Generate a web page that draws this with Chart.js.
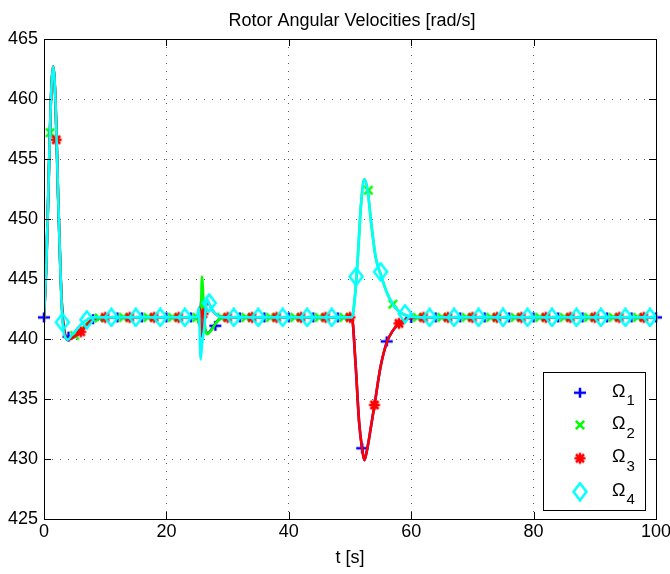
<!DOCTYPE html>
<html>
<head>
<meta charset="utf-8">
<script src="https://cdn.jsdelivr.net/npm/chart.js@4.4.0/dist/chart.umd.min.js"></script>
<style>
  html, body { margin: 0; padding: 0; background: #fff; }
</style>
</head>
<body>
<canvas id="chart" width="670" height="574"></canvas>
<script>
"use strict";

// ---- data ----
const TITLE = "Rotor Angular Velocities [rad/s]";
const X_LABEL = "t [s]";
const SERIES_NAMES = ["1", "2", "3", "4"]; // subscripts of Omega

// Omega_1 / Omega_3 curve samples
const T13 = [0, 0.4, 0.8, 1.1, 1.5, 1.9, 2.3, 2.7, 3.0, 3.5, 3.9, 4.5, 5.2, 6.0, 7.0, 8.0, 9.0,
             25.0, 25.4, 25.8, 26.2, 26.8, 27.5, 28.5, 29.5,
             50.3, 50.9, 51.5, 52.0, 52.35, 52.8, 53.4, 54.0, 55.0, 56.0, 57.0, 58.0, 59.0, 60.0, 61.0, 100];
const omega1 = [441.8, 446.5, 454.0, 459.5, 462.7, 459.5, 452.0, 445.5, 442.2, 440.2, 439.95, 440.05, 440.25, 440.6, 441.2, 441.65, 441.8,
                441.8, 441.3, 443.6, 441.0, 440.5, 440.9, 441.6, 441.8,
                441.8, 438.0, 433.0, 430.8, 429.9, 430.8, 432.6, 434.5, 437.7, 439.7, 440.7, 441.3, 441.6, 441.75, 441.8, 441.8];
const omega3 = [441.8, 446.5, 454.0, 459.5, 462.7, 459.5, 452.0, 445.5, 442.2, 440.2, 439.95, 440.05, 440.3, 440.6, 441.2, 441.65, 441.8,
                441.8, 442.6, 440.2, 442.0, 443.0, 442.4, 441.9, 441.8,
                441.8, 438.0, 433.0, 430.8, 429.9, 430.8, 432.6, 434.5, 437.7, 439.7, 440.7, 441.3, 441.6, 441.75, 441.8, 441.8];

// Omega_2 / Omega_4 curve samples
const T24 = [0, 0.4, 0.8, 1.1, 1.5, 1.9, 2.3, 2.7, 3.0, 3.5, 3.9, 4.5, 5.2, 6.0, 7.0, 8.0, 9.0,
             25.0, 25.3, 25.6, 25.8, 26.2, 26.6, 27.3, 28.2, 29.2,
             50.3, 50.8, 51.3, 51.8, 52.35, 52.9, 53.5, 54.2, 55.0, 56.0, 57.0, 58.0, 59.0, 60.0, 61.0, 100];
const omega2 = [441.8, 446.5, 454.0, 459.5, 462.7, 459.5, 452.0, 445.5, 442.0, 440.2, 439.95, 440.1, 440.3, 440.7, 441.3, 441.7, 441.8,
                441.8, 441.3, 441.0, 445.2, 441.6, 440.4, 440.7, 441.4, 441.8,
                441.8, 443.5, 447.0, 451.2, 453.3, 452.3, 449.5, 446.8, 445.4, 443.9, 442.9, 442.3, 442.0, 441.85, 441.8, 441.8];
const omega4 = [441.8, 446.5, 454.0, 459.5, 462.7, 459.5, 452.0, 445.5, 441.6, 440.1, 439.95, 440.3, 440.7, 441.2, 441.6, 441.8, 441.8,
                441.8, 442.6, 438.3, 439.5, 441.0, 443.3, 442.6, 442.0, 441.8,
                441.8, 443.5, 447.0, 451.2, 453.3, 452.3, 449.5, 446.8, 445.4, 443.9, 442.9, 442.3, 442.0, 441.85, 441.8, 441.8];

// marker positions (MATLAB puts a marker on every n-th sample)
const mark1T = [0, 4, 8, 12, 16, 20, 24, 28, 32, 36, 40, 44, 48, 52, 56, 60, 64, 68, 72, 76, 80, 84, 88, 92, 96, 100];
const mark1V = [441.8, 440.2, 441.65, 441.8, 441.8, 441.8, 441.8, 441.1, 441.8, 441.8, 441.8, 441.8, 441.8, 430.9, 439.8, 441.75,
                441.8, 441.8, 441.8, 441.8, 441.8, 441.8, 441.8, 441.8, 441.8, 441.8];
const mark2T = [1, 5, 9, 13, 17, 21, 25, 29, 33, 37, 41, 45, 49, 53, 57, 61, 65, 69, 73, 77, 81, 85, 89, 93, 97];
const mark2V = [457.2, 440.3, 441.75, 441.8, 441.8, 441.8, 441.8, 441.8, 441.8, 441.8, 441.8, 441.8, 441.8, 452.4, 442.9,
                441.8, 441.8, 441.8, 441.8, 441.8, 441.8, 441.8, 441.8, 441.8, 441.8];
const mark3T = [2, 6, 10, 14, 18, 22, 26, 30, 34, 38, 42, 46, 50, 54, 58, 62, 66, 70, 74, 78, 82, 86, 90, 94, 98];
const mark3V = [456.6, 440.6, 441.8, 441.8, 441.8, 441.8, 442.1, 441.8, 441.8, 441.8, 441.8, 441.8, 441.8, 434.5, 441.3,
                441.8, 441.8, 441.8, 441.8, 441.8, 441.8, 441.8, 441.8, 441.8, 441.8];
const mark4T = [3, 7, 11, 15, 19, 23, 27, 31, 35, 39, 43, 47, 51, 55, 59, 63, 67, 71, 75, 79, 83, 87, 91, 95, 99];
const mark4V = [441.4, 441.6, 441.8, 441.8, 441.8, 441.8, 443.0, 441.8, 441.8, 441.8, 441.8, 441.8, 445.2, 445.6, 442.1,
                441.8, 441.8, 441.8, 441.8, 441.8, 441.8, 441.8, 441.8, 441.8, 441.8];

const X_TICKS = {min: 0, max: 100, step: 20};
const Y_TICKS = {min: 425, max: 465, step: 5};

const COLORS = ["#0000ff", "#00ff00", "#ff0000", "#00ffff"];
const FONT = '"Liberation Sans", Arial, Helvetica, sans-serif';

// ---- marker glyphs ----
function makeMarker(kind, color) {
    const c = document.createElement("canvas");
    c.width = 20;
    c.height = 20;
    const g = c.getContext("2d");
    g.strokeStyle = color;
    g.lineWidth = 2.5;
    g.lineCap = "butt";
    g.beginPath();
    if (kind === "plus" || kind === "star") {
        const w = kind === "plus" ? 6 : 5.5, h = kind === "plus" ? 5 : 5.5;
        g.moveTo(10 - w, 10); g.lineTo(10 + w, 10);
        g.moveTo(10, 10 - h); g.lineTo(10, 10 + h);
    }
    if (kind === "cross" || kind === "star") {
        const d = kind === "cross" ? 4.2 : 4;
        g.moveTo(10 - d, 10 - d); g.lineTo(10 + d, 10 + d);
        g.moveTo(10 - d, 10 + d); g.lineTo(10 + d, 10 - d);
    }
    if (kind === "diamond") {
        g.moveTo(10, 1.5); g.lineTo(16.5, 10); g.lineTo(10, 18.5); g.lineTo(3.5, 10); g.closePath();
    }
    g.stroke();
    return c;
}

const MARKERS = [
    makeMarker("plus", COLORS[0]),
    makeMarker("cross", COLORS[1]),
    makeMarker("star", COLORS[2]),
    makeMarker("diamond", COLORS[3]),
];

function xy(ts, vs) {
    return ts.map((t, i) => ({x: t, y: vs[i]}));
}

function lineSet(ts, vs, color) {
    return {
        data: xy(ts, vs),
        borderColor: color,
        borderWidth: 2.6,
        pointRadius: 0,
        cubicInterpolationMode: "monotone",
        borderJoinStyle: "round",
        fill: false,
    };
}

function markSet(ts, vs, marker) {
    return {
        data: xy(ts, vs),
        showLine: false,
        pointStyle: marker,
        pointRadius: 6,
        clip: false,
    };
}

// index 0 is drawn last (on top), so the last plotted series comes first
const datasets = [
    markSet(mark4T, mark4V, MARKERS[3]),
    lineSet(T24, omega4, COLORS[3]),
    markSet(mark3T, mark3V, MARKERS[2]),
    lineSet(T13, omega3, COLORS[2]),
    markSet(mark2T, mark2V, MARKERS[1]),
    lineSet(T24, omega2, COLORS[1]),
    markSet(mark1T, mark1V, MARKERS[0]),
    lineSet(T13, omega1, COLORS[0]),
];

// box, inward ticks, titles and legend in MATLAB style
const matlabFrame = {
    id: "matlabFrame",
    afterDraw(chart) {
        const {ctx, chartArea: a, scales} = chart;
        const TICK = 7;
        ctx.save();
        ctx.strokeStyle = "#000";
        ctx.lineWidth = 1;
        ctx.beginPath();
        for (const t of scales.x.ticks) {
            const px = Math.round(scales.x.getPixelForValue(t.value)) + 0.5;
            ctx.moveTo(px, a.bottom); ctx.lineTo(px, a.bottom - TICK);
            ctx.moveTo(px, a.top); ctx.lineTo(px, a.top + TICK);
        }
        for (const t of scales.y.ticks) {
            const py = Math.round(scales.y.getPixelForValue(t.value)) + 0.5;
            ctx.moveTo(a.left, py); ctx.lineTo(a.left + TICK, py);
            ctx.moveTo(a.right, py); ctx.lineTo(a.right - TICK, py);
        }
        ctx.stroke();
        ctx.strokeRect(a.left + 0.5, a.top + 0.5, a.right - a.left, a.bottom - a.top);

        ctx.fillStyle = "#000";
        ctx.textAlign = "center";
        ctx.textBaseline = "alphabetic";
        ctx.font = "18px " + FONT;
        ctx.fillText(TITLE, (a.left + a.right) / 2 + 2, 25.5);
        ctx.fillText(X_LABEL, (a.left + a.right) / 2, 563);

        // legend
        const box = {x: 543.5, y: 372.5, w: 102, h: 138};
        ctx.fillStyle = "#fff";
        ctx.fillRect(box.x, box.y, box.w, box.h);
        ctx.strokeRect(box.x, box.y, box.w, box.h);
        const rows = [392.7, 425, 458.3, 491.7];
        ctx.textAlign = "left";
        rows.forEach((ry, i) => {
            ctx.drawImage(MARKERS[i], 580 - 10, ry - 10);
            ctx.fillStyle = "#000";
            ctx.font = "18px " + FONT;
            ctx.fillText("\u03A9", 612, ry + 4);
            const w = ctx.measureText("\u03A9").width;
            ctx.font = "15px " + FONT;
            ctx.fillText(SERIES_NAMES[i], 612 + w + 1, ry + 12.5);
        });
        ctx.restore();
    },
};

const gridLine = {color: "rgba(0,0,0,0.65)", drawTicks: false, lineWidth: 1};

new Chart(document.getElementById("chart").getContext("2d"), {
    type: "line",
    data: {datasets},
    options: {
        responsive: false,
        animation: false,
        events: [],
        layout: {padding: {top: 39, right: 14, left: 0, bottom: 0}},
        plugins: {legend: {display: false}, title: {display: false}, tooltip: {enabled: false}},
        scales: {
            x: {
                type: "linear",
                min: X_TICKS.min,
                max: X_TICKS.max,
                ticks: {stepSize: X_TICKS.step, color: "#000", font: {family: FONT, size: 18}, padding: 2, maxRotation: 0},
                grid: gridLine,
                border: {display: false, dash: [1, 7]},
                afterFit: (s) => { s.height = 55; s.paddingLeft = 0; s.paddingRight = 0; },
            },
            y: {
                type: "linear",
                min: Y_TICKS.min,
                max: Y_TICKS.max,
                ticks: {stepSize: Y_TICKS.step, color: "#000", font: {family: FONT, size: 18}, padding: 6},
                grid: gridLine,
                border: {display: false, dash: [1, 7]},
                afterFit: (s) => { s.width = 44; s.paddingTop = 0; s.paddingBottom = 0; },
            },
        },
    },
    plugins: [matlabFrame],
});
</script>
</body>
</html>
